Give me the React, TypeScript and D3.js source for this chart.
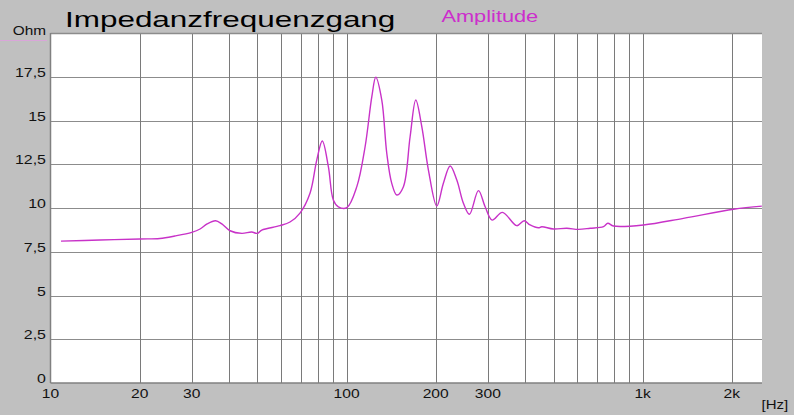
import React from "react";
import * as d3 from "d3";

const freqs = [10.85, 14.7, 20.06, 23.4, 26.3, 30.0, 32.0, 33.8, 36.1, 37.9, 40.4, 44.3, 47.8, 49.9, 51.7, 59.6, 64.4, 69.6, 75.3, 79.3, 82.8, 86.8, 90.2, 93.8, 100.2, 108.3, 115.5, 121.7, 125.5, 131.5, 136.7, 142.1, 147.8, 155.6, 163.9, 171.3, 179.5, 189.0, 201.7, 212.3, 223.8, 235.7, 248.1, 260.0, 278.8, 293.8, 310.2, 336.0, 375.8, 397.8, 416.8, 444.6, 456.5, 499.6, 554.4, 606.8, 664.6, 737.3, 762.9, 796.9, 1006, 1373, 2027, 2527];
const impedance = [8.11, 8.17, 8.23, 8.26, 8.4, 8.61, 8.8, 9.09, 9.27, 9.09, 8.7, 8.55, 8.63, 8.55, 8.74, 8.99, 9.2, 9.71, 10.86, 12.74, 13.83, 12.36, 10.46, 10.07, 10.02, 11.22, 13.5, 16.36, 17.47, 16.17, 13.13, 11.41, 10.74, 11.22, 14.07, 16.17, 14.65, 12.17, 10.11, 11.41, 12.4, 11.6, 10.27, 9.64, 10.99, 10.07, 9.31, 9.75, 8.99, 9.27, 9.03, 8.87, 8.93, 8.8, 8.84, 8.78, 8.84, 8.93, 9.13, 8.97, 9.03, 9.41, 9.93, 10.11];

const yTicks = [0, 2.5, 5, 7.5, 10, 12.5, 15, 17.5];
const yTickLabels = ["0", "2,5", "5", "7,5", "10", "12,5", "15", "17,5"];
const xGrid = [20, 30, 40, 50, 60, 70, 80, 90, 100, 200, 300, 400, 500, 600, 700, 800, 900, 1000, 2000];
const xLabelValues = [10, 20, 30, 100, 200, 300, 1000, 2000];
const xLabelTexts = ["10", "20", "30", "100", "200", "300", "1k", "2k"];

const W = 794, H = 415;
const L = 50.5, R = 762, T = 33, B = 383;

export default function App() {
  const x = d3.scaleLog().domain([10, 2530]).range([L, R]);
  const y = d3.scaleLinear().domain([0, 20]).range([B, T]);
  const pts: [number, number][] = freqs.map((f, i) => [x(f), y(impedance[i])]);
  const line = d3.line().curve(d3.curveCatmullRom.alpha(0.5))(pts) || "";
  const font = "'Liberation Sans', Arial, sans-serif";
  return (
    <svg width={W} height={H} style={{ position: "absolute", left: 0, top: 0, display: "block" }}>
      <rect x={0} y={0} width={W} height={H} fill="#c0c0c0" />
      <rect x={L} y={T} width={R - L} height={B - T} fill="#ffffff" />
      {yTicks.filter((t) => t > 0).map((t) => (
        <line key={"h" + t} x1={L} x2={R} y1={Math.round(y(t)) + 0.5} y2={Math.round(y(t)) + 0.5} stroke="#8c8c8c" strokeWidth={1} />
      ))}
      {xGrid.map((g) => (
        <line key={"v" + g} x1={Math.round(x(g)) + 0.5} x2={Math.round(x(g)) + 0.5} y1={T} y2={B} stroke="#7a7a7a" strokeWidth={1} />
      ))}
      <line x1={L} x2={R} y1={T + 0.5} y2={T + 0.5} stroke="#8c8c8c" strokeWidth={1.5} />
      <line x1={L} x2={L} y1={T} y2={B} stroke="#808080" strokeWidth={1.5} />
      <line x1={L} x2={R} y1={B} y2={B} stroke="#808080" strokeWidth={1.5} />
      <path d={line} fill="none" stroke="#c832c8" strokeWidth={1.4} />
      <text transform="translate(65,27) scale(1.43,1)" fontFamily={font} fontSize={22} fill="#000">Impedanzfrequenzgang</text>
      <text transform="translate(441.5,22) scale(1.28,1)" fontFamily={font} fontSize={17} fill="#cc2ecc">Amplitude</text>
      <text transform="translate(46,35) scale(1.28,1)" fontFamily={font} fontSize={12} fill="#111" textAnchor="end">Ohm</text>
      <line x1={0} x2={47} y1={40.5} y2={40.5} stroke="#d9a6d9" strokeWidth={1} />
      {yTicks.map((t, i) => (
        <text key={"yl" + t} transform={`translate(46,${y(t)}) scale(1.33,1)`} fontFamily={font} fontSize={12} fill="#111" textAnchor="end">{yTickLabels[i]}</text>
      ))}
      {xLabelValues.map((v, i) => (
        <text key={"xl" + v} transform={`translate(${x(v)},398) scale(1.3,1)`} fontFamily={font} fontSize={12} fill="#111" textAnchor="middle">{xLabelTexts[i]}</text>
      ))}
      <text transform="translate(761.5,409) scale(1.25,1)" fontFamily={font} fontSize={12} fill="#111">[Hz]</text>
    </svg>
  );
}
